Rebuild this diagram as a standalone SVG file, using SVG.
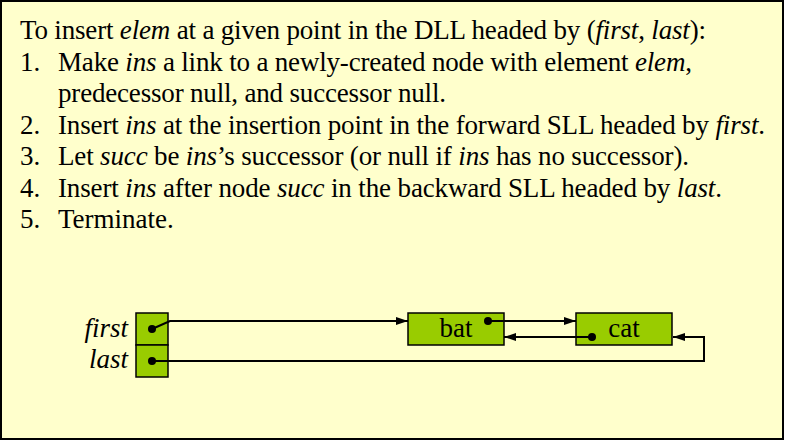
<svg xmlns="http://www.w3.org/2000/svg" width="785" height="441" viewBox="0 0 785 441">
<defs>
<style>
.t{font-family:"Liberation Serif","Times New Roman",serif;font-size:27px;fill:#000}
.i{font-style:italic}
.box{fill:#99CC00;stroke:#000;stroke-width:1.5}
.ln{fill:none;stroke:#000;stroke-width:2}
.dot{fill:#000}
</style>
<marker id="ah" markerWidth="12" markerHeight="8" refX="12" refY="4" orient="auto" markerUnits="userSpaceOnUse">
<path d="M0,0 L12,4 L0,8 Z" fill="#000"/>
</marker>
</defs>
<rect x="1" y="1" width="782" height="438" fill="#FFFFCC" stroke="#000" stroke-width="2"/>
<g id="text">
<text class="t" x="20" y="39" textLength="686" lengthAdjust="spacing">To insert <tspan class="i">elem</tspan> at a given point in the DLL headed by (<tspan class="i">first</tspan>, <tspan class="i">last</tspan>):</text>
<text class="t" x="20" y="70.5">1.</text>
<text class="t" x="58" y="70.5" textLength="634" lengthAdjust="spacing">Make <tspan class="i">ins</tspan> a link to a newly-created node with element <tspan class="i">elem</tspan>,</text>
<text class="t" x="58" y="102" textLength="388" lengthAdjust="spacing">predecessor null, and successor null.</text>
<text class="t" x="20" y="133.5">2.</text>
<text class="t" x="58" y="133.5" textLength="707" lengthAdjust="spacing">Insert <tspan class="i">ins</tspan> at the insertion point in the forward SLL headed by <tspan class="i">first</tspan>.</text>
<text class="t" x="20" y="165">3.</text>
<text class="t" x="58" y="165" textLength="631" lengthAdjust="spacing">Let <tspan class="i">succ</tspan> be <tspan class="i">ins</tspan>’s successor (or null if <tspan class="i">ins</tspan> has no successor).</text>
<text class="t" x="20" y="196.5">4.</text>
<text class="t" x="58" y="196.5" textLength="664" lengthAdjust="spacing">Insert <tspan class="i">ins</tspan> after node <tspan class="i">succ</tspan> in the backward SLL headed by <tspan class="i">last</tspan>.</text>
<text class="t" x="20" y="228">5.</text>
<text class="t" x="58" y="228">Terminate.</text>
</g>
<g id="header">
<text class="t i" x="128" y="337" text-anchor="end">first</text>
<text class="t i" x="128" y="368" text-anchor="end">last</text>
<rect class="box" x="136" y="313" width="32" height="32"/>
<rect class="box" x="136" y="345" width="32" height="32"/>
<circle class="dot" cx="152" cy="329" r="4"/>
<circle class="dot" cx="152" cy="361" r="4"/>
</g>
<g id="node-bat">
<rect class="box" x="408" y="313" width="96" height="32"/>
<text class="t" x="456" y="337" text-anchor="middle">bat</text>
<circle class="dot" cx="488" cy="321" r="4"/>
</g>
<g id="node-cat">
<rect class="box" x="576" y="313" width="96" height="32"/>
<text class="t" x="624" y="337" text-anchor="middle">cat</text>
<circle class="dot" cx="592" cy="337" r="4"/>
</g>
<g id="connectors">
<path class="ln" d="M152,329 L170,321 L408,321" marker-end="url(#ah)"/>
<path class="ln" d="M488,321 L576,321" marker-end="url(#ah)"/>
<path class="ln" d="M592,337 L504,337" marker-end="url(#ah)"/>
<path class="ln" d="M152,361 L704,361 L704,337 L673,337" marker-end="url(#ah)"/>
</g>
</svg>
